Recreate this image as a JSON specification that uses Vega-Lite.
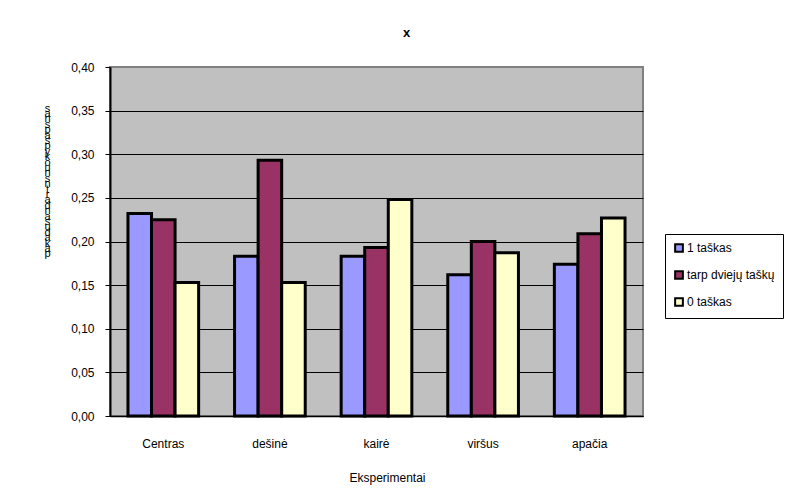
{
  "$schema": "https://vega.github.io/schema/vega-lite/v6.json",
  "width": 533,
  "height": 349,
  "autosize": {"type": "none"},
  "padding": {"left": 110, "top": 67, "right": 153, "bottom": 85},
  "background": "white",
  "title": {
    "text": "x",
    "fontSize": 13,
    "fontWeight": "bold",
    "font": "Liberation Sans",
    "color": "black",
    "anchor": "middle",
    "frame": "group",
    "dx": 30,
    "baseline": "bottom",
    "offset": 8
  },
  "config": {
    "font": "Liberation Sans",
    "view": {"fill": "#C0C0C0", "stroke": "#808080", "strokeWidth": 2}
  },
  "data": {
    "values": [
      {"eksperimentas": "Centras", "serija": "1 taškas", "reiksme": 0.232},
      {"eksperimentas": "Centras", "serija": "tarp dviejų taškų", "reiksme": 0.225},
      {"eksperimentas": "Centras", "serija": "0 taškas", "reiksme": 0.153},
      {"eksperimentas": "dešinė", "serija": "1 taškas", "reiksme": 0.183},
      {"eksperimentas": "dešinė", "serija": "tarp dviejų taškų", "reiksme": 0.293},
      {"eksperimentas": "dešinė", "serija": "0 taškas", "reiksme": 0.153},
      {"eksperimentas": "kairė", "serija": "1 taškas", "reiksme": 0.183},
      {"eksperimentas": "kairė", "serija": "tarp dviejų taškų", "reiksme": 0.193},
      {"eksperimentas": "kairė", "serija": "0 taškas", "reiksme": 0.248},
      {"eksperimentas": "viršus", "serija": "1 taškas", "reiksme": 0.162},
      {"eksperimentas": "viršus", "serija": "tarp dviejų taškų", "reiksme": 0.2},
      {"eksperimentas": "viršus", "serija": "0 taškas", "reiksme": 0.187},
      {"eksperimentas": "apačia", "serija": "1 taškas", "reiksme": 0.174},
      {"eksperimentas": "apačia", "serija": "tarp dviejų taškų", "reiksme": 0.209},
      {"eksperimentas": "apačia", "serija": "0 taškas", "reiksme": 0.227}
    ]
  },
  "mark": {"type": "bar", "stroke": "black", "strokeWidth": 3},
  "encoding": {
    "x": {
      "field": "eksperimentas",
      "type": "nominal",
      "sort": ["Centras", "dešinė", "kairė", "viršus", "apačia"],
      "scale": {"paddingInner": 0.337, "paddingOuter": 0.1685},
      "axis": {
        "title": "Eksperimentai",
        "titleFontSize": 12,
        "titleFontWeight": "normal",
        "titleColor": "black",
        "titleX": 277,
        "titleAlign": "center",
        "titlePadding": 23,
        "labelAngle": 0,
        "labelFontSize": 12,
        "labelColor": "black",
        "labelPadding": 22,
        "ticks": false,
        "domainColor": "black",
        "domainWidth": 1.5,
        "grid": false
      }
    },
    "xOffset": {
      "field": "serija",
      "type": "nominal",
      "sort": ["1 taškas", "tarp dviejų taškų", "0 taškas"],
      "scale": {"paddingInner": 0, "paddingOuter": 0}
    },
    "y": {
      "field": "reiksme",
      "type": "quantitative",
      "scale": {"domain": [0, 0.4], "nice": false},
      "axis": {
        "values": [0, 0.05, 0.1, 0.15, 0.2, 0.25, 0.3, 0.35, 0.4],
        "labelExpr": "replace(format(datum.value, '.2f'), '.', ',')",
        "labelFontSize": 12,
        "labelColor": "black",
        "labelPadding": 11,
        "tickSize": 5,
        "tickColor": "black",
        "domainColor": "black",
        "domainWidth": 2,
        "grid": true,
        "gridColor": {"condition": {"test": "datum.value >= 0.4", "value": "#808080"}, "value": "black"},
        "gridWidth": 1.2,
        "gridOpacity": 1,
        "title": ["s","a","n","s","p","a"," ","s","p","y","k","o","u","n","s","n","t","r","a","d","n","a","s"," ","u","d","a","k","a","p"],
        "titleAngle": 0,
        "titleFontSize": 11,
        "titleFontWeight": "normal",
        "titleColor": "black",
        "titleLineHeight": 5.4,
        "titleX": -63,
        "titleY": 35,
        "titleAlign": "center",
        "titleBaseline": "top"
      }
    },
    "fill": {
      "field": "serija",
      "type": "nominal",
      "sort": ["1 taškas", "tarp dviejų taškų", "0 taškas"],
      "scale": {
        "domain": ["1 taškas", "tarp dviejų taškų", "0 taškas"],
        "range": ["#9999FF", "#993366", "#FFFFCC"]
      },
      "legend": {
        "title": null,
        "orient": "none",
        "legendX": 555,
        "legendY": 167,
        "padding": 8,
        "strokeColor": "black",
        "fillColor": "white",
        "symbolType": "square",
        "symbolSize": 60,
        "symbolStrokeColor": "black",
        "symbolStrokeWidth": 2,
        "symbolOpacity": 1,
        "labelFontSize": 12,
        "labelColor": "black",
        "labelOffset": 2,
        "rowPadding": 11
      }
    }
  }
}
